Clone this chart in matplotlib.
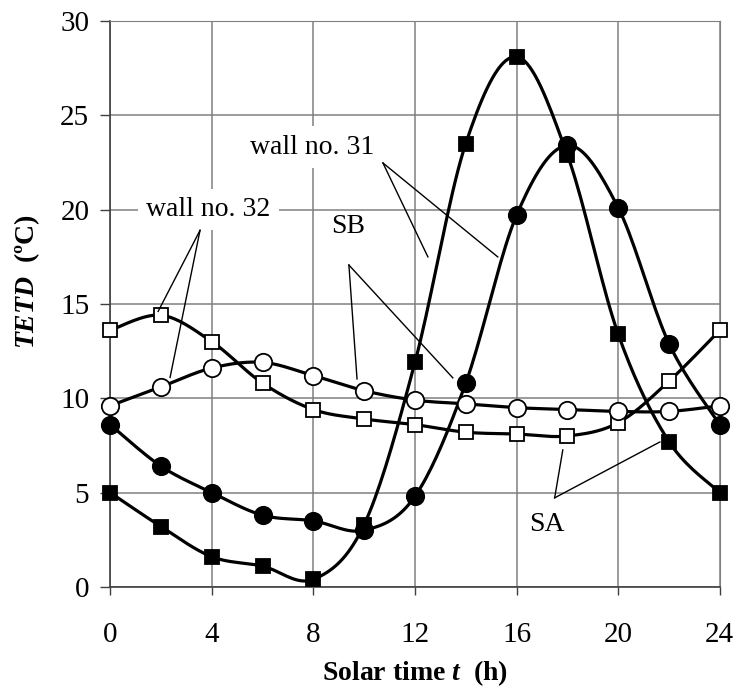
import numpy as np
import matplotlib.pyplot as plt

plt.rcParams['font.family'] = ['Liberation Serif', 'DejaVu Serif']
plt.rcParams['mathtext.fontset'] = 'custom'
plt.rcParams['mathtext.rm'] = 'Liberation Serif'
plt.rcParams['mathtext.it'] = 'Liberation Serif:italic'
plt.rcParams['mathtext.bf'] = 'Liberation Serif:bold'
plt.rcParams['mathtext.bfit'] = 'Liberation Serif:italic:bold'

hours = [0, 2, 4, 6, 8, 10, 12, 14, 16, 18, 20, 22, 24]
sa_31 = [5.0, 3.2, 1.6, 1.1, 0.4, 3.3, 11.9, 23.5, 28.1, 22.9, 13.4, 7.7, 5.0]   # filled squares
sb_31 = [8.6, 6.4, 5.0, 3.8, 3.5, 3.0, 4.8, 10.8, 19.7, 23.4, 20.1, 12.9, 8.6]  # filled circles
sa_32 = [13.6, 14.4, 13.0, 10.8, 9.4, 8.9, 8.6, 8.2, 8.1, 8.0, 8.7, 10.9, 13.6]  # open squares
sb_32 = [9.6, 10.6, 11.6, 11.9, 11.2, 10.4, 9.9, 9.7, 9.5, 9.4, 9.3, 9.3, 9.6]  # open circles


def smooth(x, y, n=20):
    # bezier smoothing like excel "smoothed line"
    x = np.asarray(x, float)
    y = np.asarray(y, float)
    px = np.concatenate([[x[0]], x, [x[-1]]])
    py = np.concatenate([[y[0]], y, [y[-1]]])
    xs, ys = [], []
    t = np.linspace(0, 1, n)
    for i in range(1, len(px) - 2):
        p0, p1, p2, p3 = [np.array([px[j], py[j]]) for j in (i - 1, i, i + 1, i + 2)]
        c1 = p1 + (p2 - p0) / 6
        c2 = p2 - (p3 - p1) / 6
        b = ((1 - t) ** 3)[:, None] * p1 + (3 * (1 - t) ** 2 * t)[:, None] * c1 \
            + (3 * (1 - t) * t ** 2)[:, None] * c2 + (t ** 3)[:, None] * p2
        xs.extend(b[:, 0])
        ys.extend(b[:, 1])
    return xs, ys


fig = plt.figure(figsize=(7.39, 6.97), dpi=100)
ax = fig.add_axes([0.149, 0.158, 0.825, 0.812])

series = [
    (sa_32, 's', 'white', 10),
    (sb_32, 'o', 'white', 12.5),
    (sa_31, 's', 'black', 10),
    (sb_31, 'o', 'black', 12.5),
]
for vals, mk, fc, ms in series:
    sx, sy = smooth(hours, vals)
    ax.plot(sx, sy, color='black', lw=2.3, zorder=3)
    ax.plot(hours, vals, ls='none', marker=mk, ms=ms, mfc=fc, mec='black',
            mew=1.3, zorder=4, clip_on=False)

ax.set_xlim(0, 24)
ax.set_ylim(0, 30)
ax.set_xticks(range(0, 25, 4))
ax.set_yticks(range(0, 31, 5))
ax.grid(True, color='#808080', lw=1.1, zorder=0)
ax.set_axisbelow(True)
for s in ['top', 'right']:
    ax.spines[s].set_color('#808080')
for s in ['left', 'bottom']:
    ax.spines[s].set_color('#404040')
    ax.spines[s].set_linewidth(1.2)
ax.tick_params(axis='y', length=7, width=1, color='#404040', pad=8, labelsize=21)
ax.tick_params(axis='x', length=6, width=1, color='#404040', pad=19, labelsize=21)

fig.text(0.561, 1 - 673 / 697, r'Solar time $\mathbfit{t}$  (h)', fontsize=20,
         fontweight='bold', ha='center', va='center')
fig.text(0.037, 1 - 282 / 697, r'$\mathbfit{TETD}$  (ºC)', rotation=90, fontsize=20,
         fontweight='bold', ha='center', va='center')

bbox = dict(facecolor='white', edgecolor='none', pad=6)
lw = 1.0
# wall no. 32
ax.text(3.87, 20.0, 'wall no. 32', fontsize=20, ha='center', va='center', bbox=bbox, zorder=2)
for ex, ey in [(1.89, 14.6), (2.36, 11.1)]:
    ax.plot([3.54, ex], [18.9, ey], color='black', lw=lw, zorder=5)
# wall no. 31
ax.text(7.95, 23.3, 'wall no. 31', fontsize=20, ha='center', va='center', bbox=bbox, zorder=2)
for ex, ey in [(12.51, 17.49), (15.26, 17.49)]:
    ax.plot([10.74, ex], [22.47, ey], color='black', lw=lw, zorder=5)
# SB
ax.text(9.36, 19.1, 'SB', fontsize=20, ha='center', va='center', zorder=5)
for ex, ey in [(9.72, 11.02), (13.49, 11.08)]:
    ax.plot([9.40, ex], [17.06, ey], color='black', lw=lw, zorder=5)
# SA
ax.text(17.19, 3.3, 'SA', fontsize=20, ha='center', va='center', zorder=5)
for ex, ey in [(17.82, 7.26), (21.64, 7.68)]:
    ax.plot([17.5, ex], [4.72, ey], color='black', lw=lw, zorder=5)

fig.savefig('out.png', dpi=100)
